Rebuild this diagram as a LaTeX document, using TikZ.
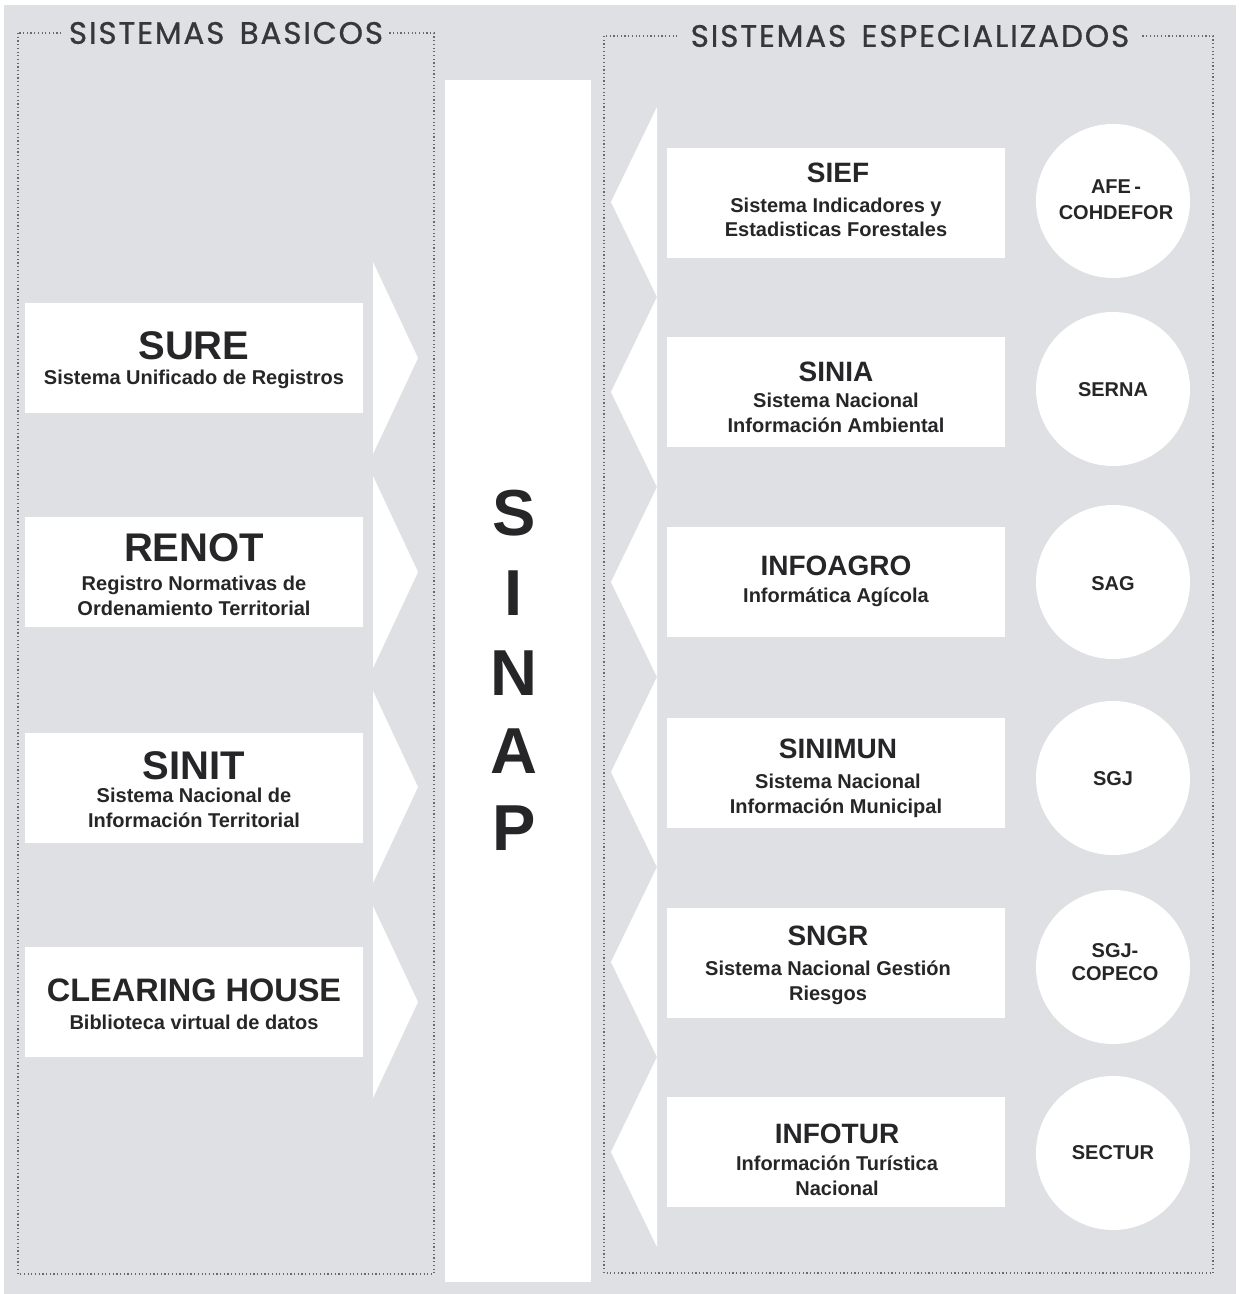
\documentclass[tikz,border=0pt]{standalone}
\usepackage{fontspec}
\setmainfont{Liberation Sans}
\newfontfamily\headfont[LetterSpace=6,FakeBold=0.8]{Poppins}
\definecolor{bggray}{RGB}{223,224,227}
\definecolor{dotgray}{RGB}{105,105,110}
\definecolor{txt}{RGB}{38,38,40}
\definecolor{headtxt}{RGB}{55,55,58}
\begin{document}
\begin{tikzpicture}[x=1pt,y=-1pt,
  panel/.style={draw=dotgray, line width=1.4pt, dash pattern=on 1.2pt off 2.5pt},
  header/.style={fill=bggray, inner xsep=5pt, inner ysep=2pt, text=headtxt, font=\headfont\fontsize{31}{31}\selectfont},
  wbox/.style={fill=white, draw=none, inner sep=0pt, minimum width=338pt, minimum height=110pt},
  circ/.style={fill=white, draw=none, circle, inner sep=0pt, minimum size=154pt},
  bigtitle/.style={anchor=base, inner sep=0pt, text=txt, font=\bfseries\fontsize{40}{40}\selectfont},
  midtitle/.style={anchor=base, inner sep=0pt, text=txt, font=\bfseries\fontsize{28}{28}\selectfont},
  subtxt/.style={anchor=base, inner sep=0pt, text=txt, font=\bfseries\fontsize{20}{20}\selectfont},
  sinap/.style={anchor=base, inner sep=0pt, text=txt, font=\bfseries\fontsize{65}{65}\selectfont},
  chev/.style={fill=white, draw=none}
]
\useasboundingbox (0,0) rectangle (1239,1294);
\fill[white] (0,0) rectangle (1239,1294);
\fill[bggray] (4,5) rectangle (1236,1294);

% panels
\draw[panel] (18,33) rectangle (434,1274);
\draw[panel] (604,36) rectangle (1213,1273);
\node[header] (hb) at (226,33) {SISTEMAS\, BASICOS};
\node[header, inner xsep=12pt] (he) at (910,36) {SISTEMAS\, ESPECIALIZADOS};

% SINAP column
\fill[white] (445,80) rectangle (591,1282);
\node[sinap] (s1) at (514,535) {S};
\node[sinap] (s2) at (514,615) {I};
\node[sinap] (s3) at (514,695) {N};
\node[sinap] (s4) at (514,773) {A};
\node[sinap] (s5) at (514,850) {P};

% left arrows
\foreach \t in {358,572,787,1002}{
  \fill[chev] (373,\t-96) -- (418,\t) -- (373,\t+96) -- cycle;
}
% right arrows
\foreach \t in {202,392,582,772,962,1152}{
  \fill[chev] (657,\t-95) -- (611,\t) -- (657,\t+95) -- cycle;
}

% left boxes
\node[wbox] (sure) at (194,358) {};
\node[bigtitle] (sureT) at (194,359) {SURE};
\node[subtxt] (sureS) at (194,384) {Sistema Unificado de Registros};

\node[wbox] (renot) at (194,572) {};
\node[bigtitle] (renotT) at (194,561) {RENOT};
\node[subtxt] (renotS1) at (194,590) {Registro Normativas de};
\node[subtxt] (renotS2) at (194,615) {Ordenamiento Territorial};

\node[wbox] (sinit) at (194,788) {};
\node[bigtitle] (sinitT) at (194,779) {SINIT};
\node[subtxt] (sinitS1) at (194,802) {Sistema Nacional de};
\node[subtxt] (sinitS2) at (194,827) {Información Territorial};

\node[wbox] (clear) at (194,1002) {};
\node[bigtitle, font=\bfseries\fontsize{32.5}{32.5}\selectfont] (clearT) at (194,1001) {CLEARING HOUSE};
\node[subtxt] (clearS) at (194,1029) {Biblioteca virtual de datos};

% right boxes
\node[wbox] (sief) at (836,203) {};
\node[midtitle] (siefT) at (838,182) {SIEF};
\node[subtxt] (siefS1) at (836,212) {Sistema Indicadores y};
\node[subtxt] (siefS2) at (836,236) {Estadisticas Forestales};

\node[wbox] (sinia) at (836,392) {};
\node[midtitle] (siniaT) at (836,381) {SINIA};
\node[subtxt] (siniaS1) at (836,407) {Sistema Nacional};
\node[subtxt] (siniaS2) at (836,432) {Información Ambiental};

\node[wbox] (infoagro) at (836,582) {};
\node[midtitle] (infoagroT) at (836,575) {INFOAGRO};
\node[subtxt] (infoagroS) at (836,602) {Informática Agícola};

\node[wbox] (sinimun) at (836,773) {};
\node[midtitle] (sinimunT) at (838,758) {SINIMUN};
\node[subtxt] (sinimunS1) at (838,788) {Sistema Nacional};
\node[subtxt] (sinimunS2) at (836,813) {Información Municipal};

\node[wbox] (sngr) at (836,963) {};
\node[midtitle] (sngrT) at (828,945) {SNGR};
\node[subtxt] (sngrS1) at (828,975) {Sistema Nacional Gestión};
\node[subtxt] (sngrS2) at (828,1000) {Riesgos};

\node[wbox] (infotur) at (836,1152) {};
\node[midtitle] (infoturT) at (837,1143) {INFOTUR};
\node[subtxt] (infoturS1) at (837,1170) {Información Turística};
\node[subtxt] (infoturS2) at (837,1195) {Nacional};

% circles
\node[circ] (c1) at (1113,201) {};
\node[subtxt] (c1a) at (1116,193) {AFE\,-};
\node[subtxt] (c1b) at (1116,219) {COHDEFOR};

\node[circ] (c2) at (1113,389) {};
\node[subtxt] (c2a) at (1113,396) {SERNA};

\node[circ] (c3) at (1113,582) {};
\node[subtxt] (c3a) at (1113,590) {SAG};

\node[circ] (c4) at (1113,778) {};
\node[subtxt] (c4a) at (1113,785) {SGJ};

\node[circ] (c5) at (1113,967) {};
\node[subtxt] (c5a) at (1115,957) {SGJ-};
\node[subtxt] (c5b) at (1115,980) {COPECO};

\node[circ] (c6) at (1113,1153) {};
\node[subtxt] (c6a) at (1113,1159) {SECTUR};
\end{tikzpicture}
\end{document}
